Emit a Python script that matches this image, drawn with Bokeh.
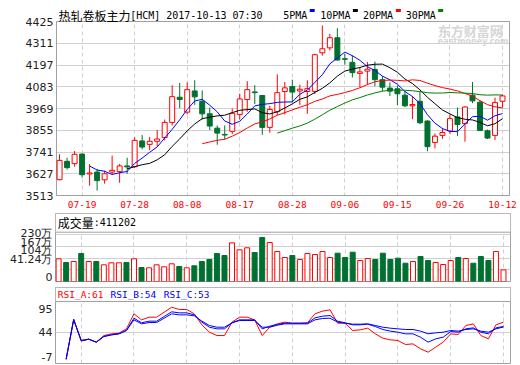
import numpy as np
import pandas as pd
from bokeh.plotting import figure
from bokeh.layouts import column
from bokeh.models import Range1d, FixedTicker, Span, BoxAnnotation, ColumnDataSource
from bokeh.core.properties import value
from bokeh.embed import file_html
from bokeh.resources import INLINE

# ---------------- data ----------------
dates = ["07-14", "07-17", "07-18", "07-19", "07-20", "07-21", "07-24", "07-25", "07-26", "07-27",
         "07-28", "07-31", "08-01", "08-02", "08-03", "08-04", "08-07", "08-08", "08-09", "08-10",
         "08-11", "08-14", "08-15", "08-16", "08-17", "08-18", "08-21", "08-22", "08-23", "08-24",
         "08-25", "08-28", "08-29", "08-30", "08-31", "09-01", "09-04", "09-05", "09-06", "09-07",
         "09-08", "09-11", "09-12", "09-13", "09-14", "09-15", "09-18", "09-19", "09-20", "09-21",
         "09-22", "09-25", "09-26", "09-27", "09-28", "09-29", "10-09", "10-10", "10-11", "10-12"]

open_ = [3596, 3692, 3680, 3730, 3626, 3636, 3595, 3636, 3638, 3668,
         3664, 3799, 3781, 3797, 3817, 3896, 4028, 3950, 4061, 4007,
         3941, 3866, 3833, 3849, 3938, 4016, 4056, 4037, 3870, 3952,
         4058, 4084, 4061, 4058, 4059, 4261, 4287, 4340, 4230, 4211,
         4153, 4165, 4174, 4120, 4076, 4072, 4039, 3983, 4007, 3903,
         3791, 3828, 3851, 3925, 3890, 4039, 4002, 3852, 3828, 4007]
high = [3729, 3711, 3746, 3734, 3678, 3652, 3643, 3722, 3678, 3711,
        3818, 3830, 3820, 3856, 3911, 4091, 4103, 4106, 4117, 4064,
        3974, 3880, 3880, 3969, 4047, 4112, 4091, 4040, 3983, 4148,
        4108, 4120, 4094, 4117, 4256, 4404, 4361, 4390, 4256, 4246,
        4186, 4213, 4215, 4139, 4107, 4090, 4060, 4032, 4056, 3908,
        3838, 3864, 3938, 3974, 3981, 4108, 4012, 3859, 4026, 4042]
low = [3593, 3649, 3664, 3607, 3565, 3539, 3575, 3622, 3580, 3627,
       3657, 3755, 3750, 3772, 3802, 3880, 3971, 3938, 3988, 3911,
       3856, 3779, 3807, 3835, 3911, 3952, 3992, 3831, 3842, 3935,
       3938, 4002, 3988, 3941, 4045, 4246, 4273, 4220, 4198, 4131,
       4081, 4093, 4086, 4060, 4034, 3987, 3976, 3913, 3887, 3745,
       3760, 3810, 3835, 3824, 3795, 3997, 3852, 3809, 3804, 3974]
close = [3697, 3659, 3729, 3622, 3631, 3591, 3627, 3645, 3668, 3663,
         3802, 3767, 3797, 3809, 3896, 4031, 4016, 4068, 4030, 3941,
         3877, 3840, 3830, 3944, 4019, 4068, 4052, 3870, 3964, 4052,
         4077, 4055, 4070, 4073, 4251, 4282, 4340, 4223, 4227, 4157,
         4161, 4175, 4120, 4081, 4060, 4046, 3983, 3990, 3894, 3769,
         3824, 3843, 3916, 3885, 3977, 4009, 3854, 3814, 4000, 4035]

# volume in 万 (10k lots)
vol = [99.9, 80.2, 85.5, 128.2, 85.5, 85.5, 67.9, 78.6, 78.6, 80.2,
       99.9, 53.5, 51.9, 67.9, 57.2, 73.2, 58.8, 51.9, 62.6, 85.5,
       96.2, 128.2, 117.5, 185.2, 147.9, 158.6, 133.5, 213.5, 186.9, 138.8,
       106.8, 117.5, 96.2, 128.2, 122.8, 138.8, 106.8, 129.8, 106.8, 135.1,
       90.8, 101.5, 96.2, 129.8, 96.2, 103.1, 76.4, 85.5, 112.2, 90.8,
       80.2, 69.5, 90.8, 106.8, 101.5, 76.4, 112.2, 90.8, 138.8, 41.12]

nan = float("nan")
rsi_a = [nan, 0, 65.3, 29.7, 33.0, 28.1, 39.0, 41.8, 42.9, 50.0,
         74.7, 64.8, 69.2, 69.2, 77.4, 85.6, 81.8, 81.8, 74.7, 56.6,
         44.5, 39.0, 39.0, 61.0, 69.2, 69.2, 64.8, 39.0, 52.7, 58.2,
         61.0, 59.3, 59.3, 59.9, 74.7, 79.1, 81.3, 59.3, 59.3, 47.3,
         48.4, 51.1, 41.8, 34.6, 31.9, 30.8, 24.2, 25.3, 17.1, 11.6,
         19.8, 28.1, 41.8, 40.7, 55.5, 58.2, 39.0, 33.5, 56.6, 61.0]
rsi_b = [nan, 0, 65.3, 30.8, 33.0, 28.1, 37.4, 40.1, 41.8, 47.3,
         67.5, 60.0, 62.6, 62.6, 70.3, 78.0, 76.3, 76.3, 73.0, 61.0,
         52.7, 50.0, 50.0, 59.9, 64.8, 64.8, 64.8, 50.0, 54.4, 57.1,
         59.3, 59.3, 59.3, 59.3, 68.1, 70.8, 71.9, 62.6, 59.9, 56.6,
         56.6, 57.7, 53.8, 48.9, 46.2, 44.5, 41.8, 41.8, 36.3, 28.1,
         33.5, 36.3, 45.6, 44.5, 50.0, 51.6, 44.5, 41.8, 51.6, 54.0]
rsi_c = [nan, 0, 65.3, 30.8, 33.0, 28.1, 37.4, 40.1, 41.8, 47.3,
         64.8, 58.2, 60.4, 60.4, 67.5, 74.7, 73.0, 73.0, 71.4, 62.6,
         55.5, 52.7, 52.7, 59.9, 63.7, 63.7, 63.7, 52.7, 52.7, 56.0,
         58.2, 58.2, 58.2, 58.2, 64.8, 67.0, 67.5, 61.0, 59.3, 57.7,
         57.7, 58.2, 55.5, 52.7, 51.1, 50.0, 48.9, 48.9, 46.2, 41.8,
         43.4, 44.5, 47.3, 46.2, 48.9, 50.0, 46.2, 44.5, 50.0, 53.0]

price_ticks = [3513, 3627, 3741, 3855, 3969, 4083, 4197, 4311, 4425]
tick_labels = ["07-19", "07-28", "08-08", "08-17", "08-28", "09-06", "09-15", "09-26", "10-12"]
vol_grid = [41.24, 104.16, 167.08, 230]
vol_labels = {233: "230万", 185: "167万", 144: "104万", 95: "41.24万", -10: "0"}
rsi_grid = [44]
rsi_labels = {82: "95", 44: "44", 4: "-7"}

title_cn = "热轧卷板主力"
title_code = "[HCM] 2017-10-13 07:30"
ma_names = ["5PMA", "10PMA", "20PMA", "30PMA"]
ma_periods = [5, 10, 20, 30]
vol_name = "成交量"
vol_last = ":411202"
rsi_heads = ["RSI_A:61", "RSI_B:54", "RSI_C:53"]

# ---------------- style ----------------
RED = "#ff0000"
GREEN = "#007030"
BLUE = "#0000ff"
MA_GREEN = "#008000"
FRAME = "#a0a0a0"
GRID = "#d0d0d0"
ma_colors = [BLUE, "#000000", RED, MA_GREEN]
W = 520

n = len(dates)
idx = list(range(n))
tick_idx = [dates.index(t) for t in tick_labels]
X0, X1 = -0.41, 59.93
xr = Range1d(X0, X1)
PX = (X1 - X0) / 455.0          # index units per pixel

up = [c >= o for o, c in zip(open_, close)]
col = [RED if u else GREEN for u in up]
fill = ["white" if u else GREEN for u in up]


def style_axes(p):
    for ax in p.yaxis:
        ax.axis_line_color = None
        ax.major_tick_line_color = None
        ax.minor_tick_line_color = None
        ax.major_tick_out = 0
        ax.major_tick_in = 0
        ax.minor_tick_out = 0
        ax.minor_tick_in = 0
        ax.major_label_standoff = 3
        ax.major_label_text_font = "DejaVu Sans"
        ax.major_label_text_font_size = "11px"
        ax.major_label_text_color = "#222222"


def make_fig(h, x_range, yr, left, right, top, bottom):
    p = figure(width=W, height=h, x_range=x_range, y_range=yr, output_backend="svg",
               toolbar_location=None, min_border_left=left, min_border_right=right,
               min_border_top=top, min_border_bottom=bottom)
    p.background_fill_color = "white"
    p.border_fill_color = "white"
    p.outline_line_color = FRAME
    p.outline_line_width = 1
    p.xgrid.ticker = FixedTicker(ticks=tick_idx)
    p.xgrid.grid_line_color = GRID
    p.xgrid.grid_line_dash = "4 3"
    p.ygrid.grid_line_color = GRID
    style_axes(p)
    for ax in p.xaxis:
        ax.visible = False
    return p


# ---------------- main price panel (title row inside its frame) ----------------
PY = (4425 - 3513) / 174.0      # price units per pixel
p1 = make_fig(212, Range1d(X0 - PX, X1 + PX), Range1d(3513 - PY, 4425 + 21 * PY), 54, 9, 0, 16)
p1.outline_line_color = None
p1.yaxis.major_label_standoff = 2
p1.ygrid.ticker = FixedTicker(ticks=price_ticks)
p1.yaxis.ticker = FixedTicker(ticks=price_ticks)
xa = p1.xaxis[0]
xa.visible = True
xa.ticker = FixedTicker(ticks=tick_idx)
xa.major_label_overrides = {i: d for i, d in zip(tick_idx, tick_labels)}
xa.axis_line_color = None
xa.major_tick_line_color = None
xa.minor_tick_line_color = None
xa.major_tick_out = 0
xa.major_tick_in = 0
xa.minor_tick_out = 0
xa.minor_tick_in = 0
xa.major_label_standoff = 4
xa.major_label_text_font = "DejaVu Sans Mono"
xa.major_label_text_font_size = "9.5px"
xa.major_label_text_color = RED

# hide the grid in the title row, then draw the panel box
p1.add_layout(BoxAnnotation(bottom=4425, fill_color="white", fill_alpha=1, line_color=None,
                            level="underlay"))
p1.add_layout(BoxAnnotation(top=3513, fill_color="white", fill_alpha=1, line_color=None,
                            level="underlay"))
p1.quad(left=[X0], right=[X1], bottom=[3513], top=[4425], fill_color=None,
        line_color=FRAME, line_width=1)

src = ColumnDataSource(dict(x=idx, h=high, l=low,
                            top=[max(o, c) for o, c in zip(open_, close)],
                            bot=[min(o, c) for o, c in zip(open_, close)],
                            col=col, fill=fill))
p1.segment(x0="x", y0="l", x1="x", y1="h", line_color="col", line_width=1, source=src)
p1.vbar(x="x", width=0.66, top="top", bottom="bot", fill_color="fill", line_color="col",
        line_width=1, source=src)

cs = pd.Series(close, dtype=float)
for per, c in zip(ma_periods, ma_colors):
    p1.line(idx, cs.rolling(per).mean().tolist(), line_color=c, line_width=1)

# watermark
p1.text(x=[50.38], y=[4379], text=["东方财富网"], text_font=value("Noto Sans CJK SC"),
        text_font_size=value("13px"), text_font_style="bold", text_color="#d6d6d6",
        text_baseline="middle", text_align="left")
p1.text(x=[50.38], y=[4320], text=["eastmoney.com"], text_font=value("DejaVu Sans"),
        text_font_size=value("8px"), text_font_style="bold", text_color="#d6d6d6",
        text_baseline="middle", text_align="left")

# title row
ty = 4425 + 6 * PY
p1.text(x=[-0.146], y=[ty], text=[title_cn], text_font=value("Noto Sans CJK SC"),
        text_font_size=value("12px"), text_baseline="alphabetic", text_color="black")
p1.text(x=[9.40], y=[ty], text=[title_code], text_font=value("DejaVu Sans Mono"),
        text_font_size=value("10px"), text_baseline="alphabetic", text_color="black")
leg_x = [29.79, 34.73, 40.40, 46.10]
sq_x = [33.65, 39.40, 45.13, 50.76]
p1.text(x=leg_x, y=[ty] * 4, text=ma_names, text_font=value("DejaVu Sans Mono"),
        text_font_size=value("10px"), text_baseline="alphabetic", text_color="black")
p1.rect(x=sq_x, y=[4425 + 11 * PY] * 4, width=5 * PX, height=3 * PY, fill_color=ma_colors,
        line_color=None)

# ---------------- volume panel ----------------
vb, vt, vsep = -21.1, 341.4, 241.7
p2 = make_fig(71, xr, Range1d(vb, vt), 55, 10, 1, 2)
p2.ygrid.ticker = FixedTicker(ticks=vol_grid)
p2.yaxis.ticker = FixedTicker(ticks=list(vol_labels.keys()))
p2.yaxis.major_label_overrides = vol_labels
p2.add_layout(BoxAnnotation(bottom=vsep, fill_color="white", fill_alpha=1, line_color=None,
                            level="underlay"))
p2.add_layout(Span(location=vsep, dimension="width", line_color=FRAME, line_width=1))
vsrc = ColumnDataSource(dict(x=idx, v=vol, col=col, fill=fill))
p2.vbar(x="x", width=0.66, top="v", bottom=vb, fill_color="fill", line_color="col",
        line_width=1, source=vsrc)
p2.text(x=[-0.11], y=[290.8], text=[vol_name], text_font=value("Noto Sans CJK SC"),
        text_font_size=value("12px"), text_baseline="middle", text_color="black")
p2.text(x=[4.67], y=[290.8], text=[vol_last], text_font=value("DejaVu Sans Mono"),
        text_font_size=value("10px"), text_baseline="middle", text_color="black")

# ---------------- RSI panel ----------------
rb, rt, rsep = -7, 118.0, 95
p3 = make_fig(82, xr, Range1d(rb, rt), 55, 10, 4, 2)
p3.ygrid.ticker = FixedTicker(ticks=rsi_grid)
p3.yaxis.ticker = FixedTicker(ticks=list(rsi_labels.keys()))
p3.yaxis.major_label_overrides = rsi_labels
p3.add_layout(BoxAnnotation(bottom=rsep, fill_color="white", fill_alpha=1, line_color=None,
                            level="underlay"))
p3.add_layout(Span(location=rsep, dimension="width", line_color=FRAME, line_width=1))
p3.line(idx, rsi_a, line_color=RED, line_width=1)
p3.line(idx, rsi_b, line_color=BLUE, line_width=1)
p3.line(idx, rsi_c, line_color=BLUE, line_width=1)
for hx, txt, c in zip([-0.11, 6.88, 13.95], rsi_heads, [RED, BLUE, BLUE]):
    p3.text(x=[hx], y=[106.5], text=[txt], text_font=value("DejaVu Sans Mono"),
            text_font_size=value("9.5px"), text_baseline="middle", text_color=c)

layout = column(p1, p2, p3)
open("out.html", "w").write(file_html(layout, INLINE))
